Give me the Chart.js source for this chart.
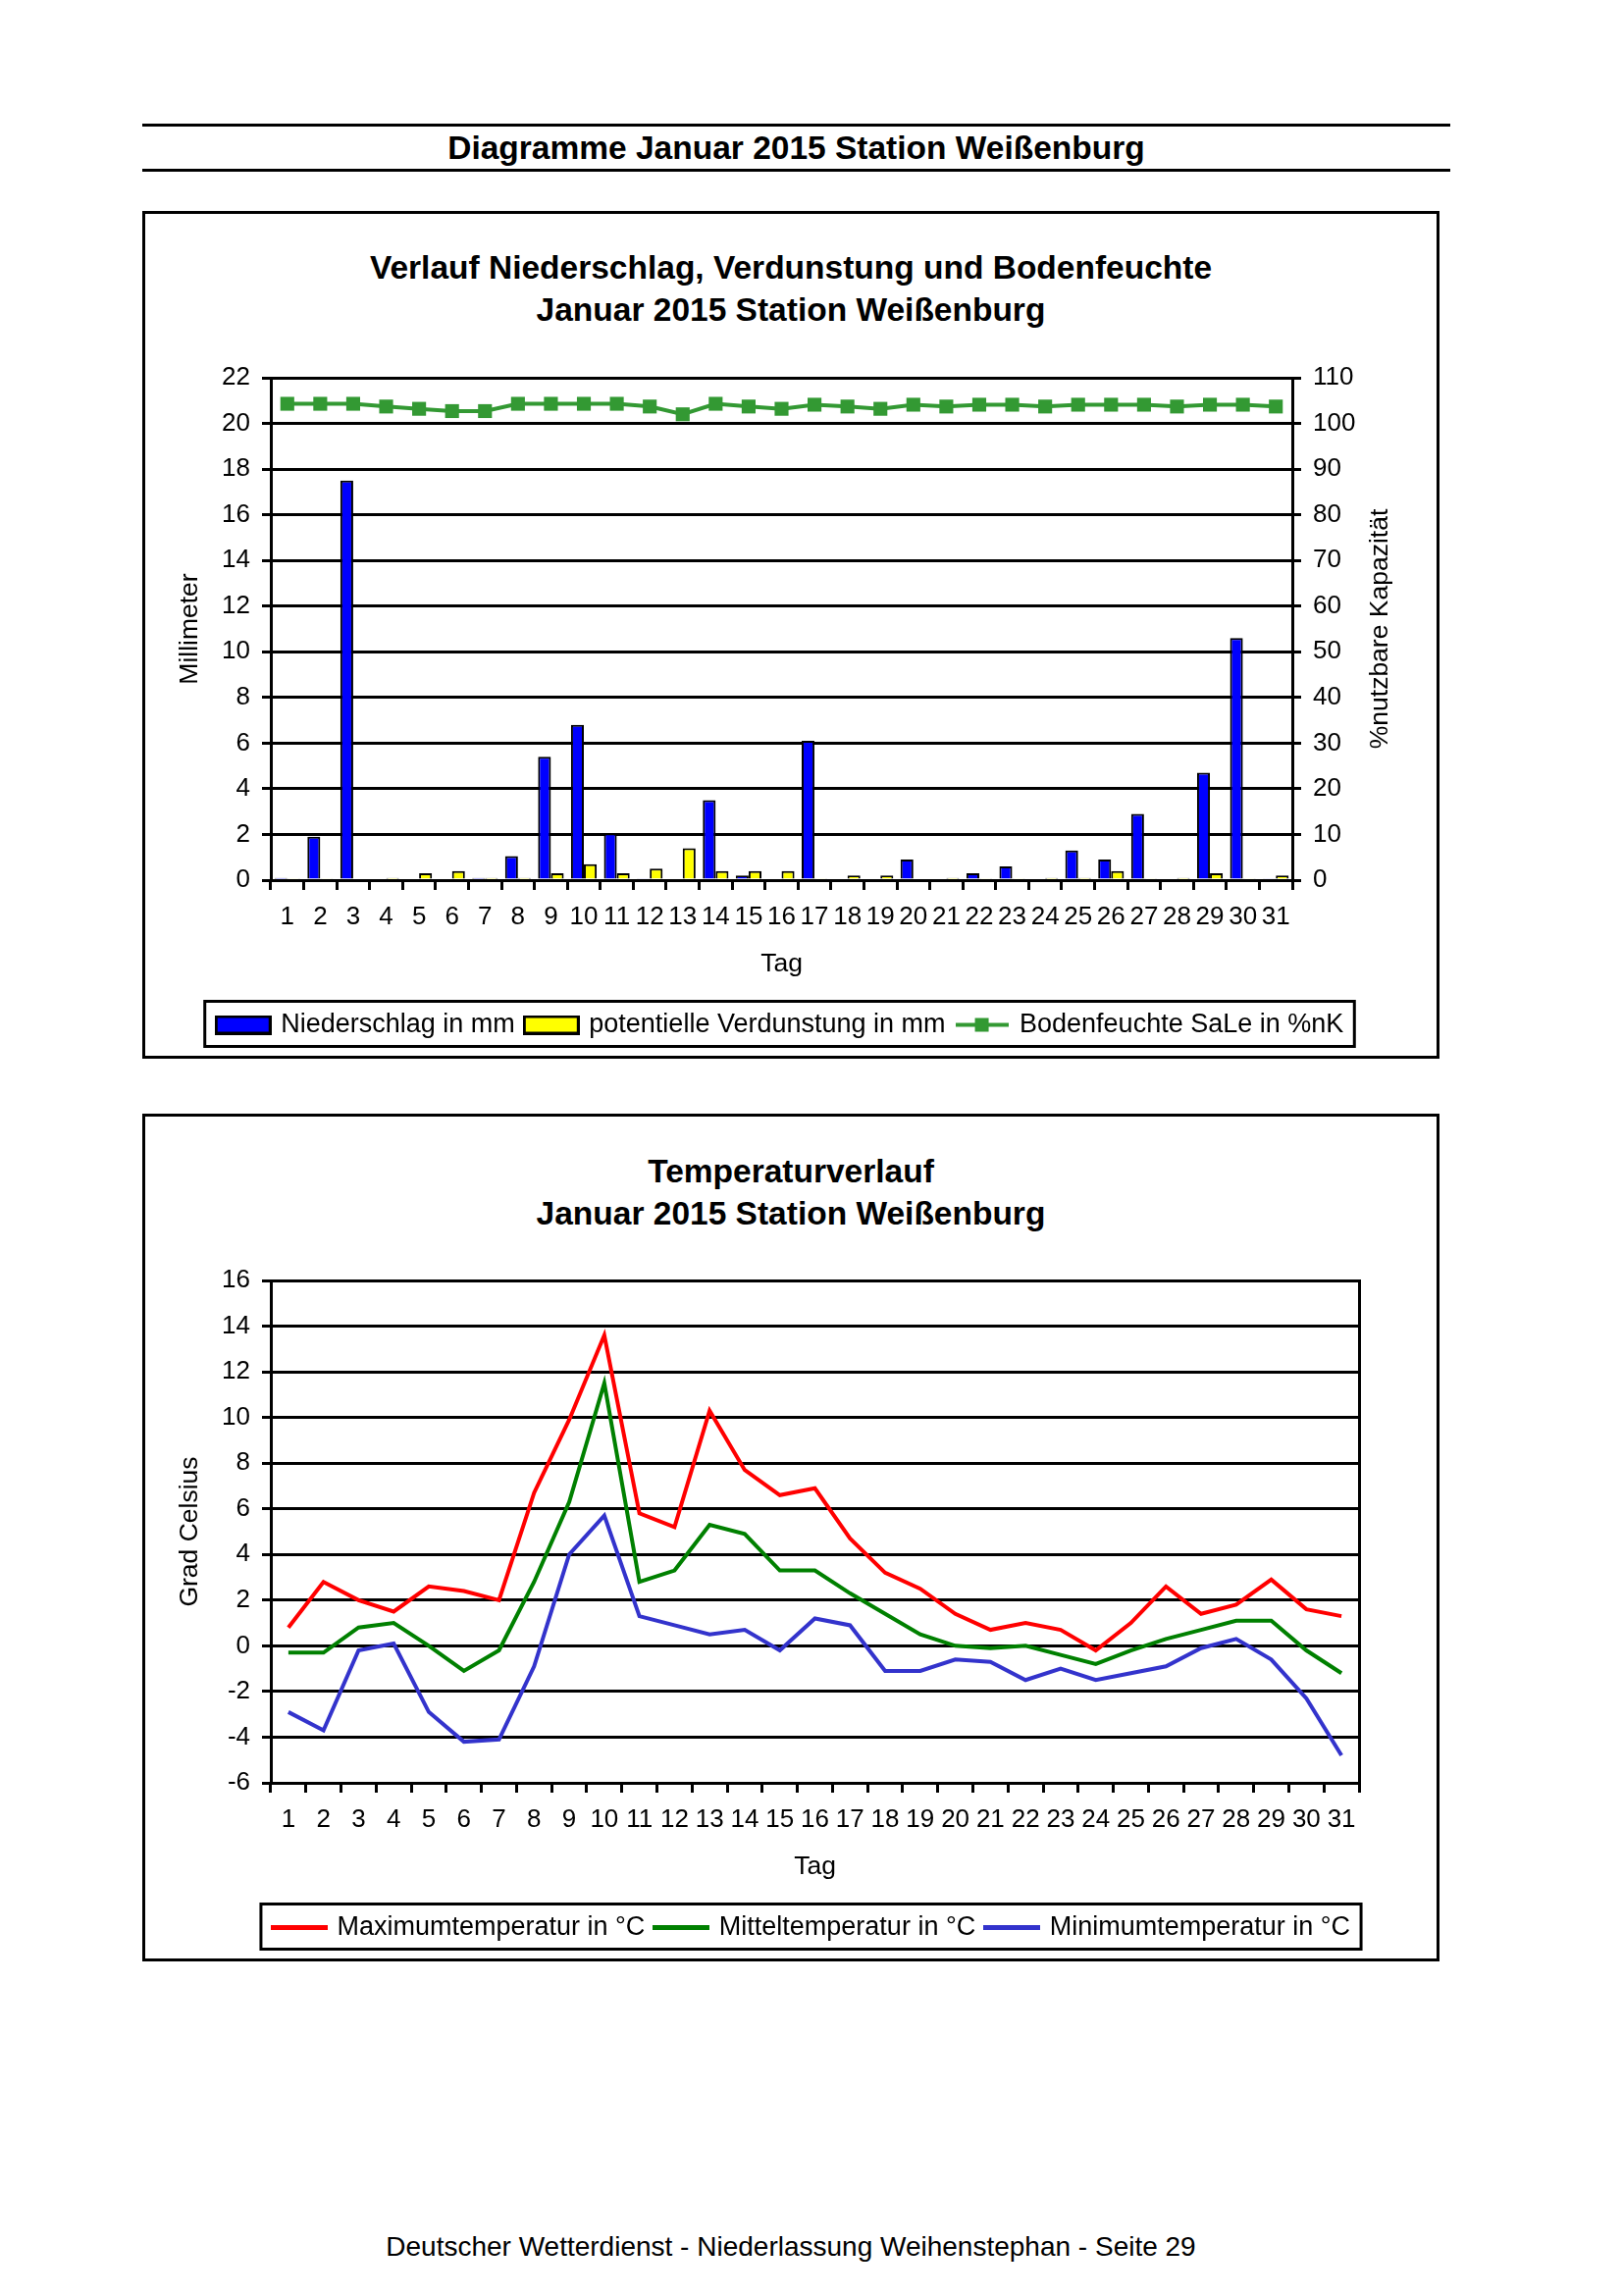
<!DOCTYPE html>
<html lang="de">
<head>
  <meta charset="UTF-8">
  <title>Diagramme Januar 2015 Station Weißenburg</title>
  <script src="https://cdn.jsdelivr.net/npm/chart.js"></script>
  <style>
    body {
      margin: 0;
      background: #fff;
      font-family: "Liberation Sans", Arial, sans-serif;
      color: #000;
    }

    #page {
      position: relative;
      width: 1653px;
      height: 2340px;
      overflow: hidden;
    }

    .hline {
      position: absolute;
      left: 145px;
      width: 1333px;
      border-top: 3px solid #000;
    }

    .kopf {
      position: absolute;
      left: 145px;
      width: 1333px;
      top: 131px;
      height: 40px;
      line-height: 40px;
      text-align: center;
      font-weight: bold;
      font-size: 33.5px;
    }

    .rahmen {
      position: absolute;
      left: 145px;
      width: 1316px;
      height: 858px;
      border: 3px solid #000;
    }

    .titel {
      position: absolute;
      left: 145px;
      width: 1322px;
      text-align: center;
      font-weight: bold;
      font-size: 33.5px;
      line-height: 43px;
    }

    canvas {
      position: absolute;
    }

    .fuss {
      position: absolute;
      left: 145px;
      width: 1322px;
      top: 2274px;
      height: 32px;
      line-height: 32px;
      text-align: center;
      font-size: 28px;
    }
  </style>
</head>
<body>
  <div id="page">
    <div class="hline" style="top:126px"></div>
    <div class="kopf">Diagramme Januar 2015 Station Weißenburg</div>
    <div class="hline" style="top:172px"></div>

    <div class="rahmen" style="top:215px"></div>
    <div class="titel" style="top:251px">Verlauf Niederschlag, Verdunstung und Bodenfeuchte<br>Januar 2015 Station Weißenburg</div>
    <canvas id="chartWasser" width="1292" height="858" style="left:150px; top:218px"></canvas>

    <div class="rahmen" style="top:1135px"></div>
    <div class="titel" style="top:1172px">Temperaturverlauf<br>Januar 2015 Station Weißenburg</div>
    <canvas id="chartTemp" width="1356" height="858" style="left:150px; top:1138px"></canvas>

    <div class="fuss">Deutscher Wetterdienst - Niederlassung Weihenstephan - Seite 29</div>
  </div>

  <script>
    const tage = ['1', '2', '3', '4', '5', '6', '7', '8', '9', '10', '11', '12', '13', '14', '15', '16',
      '17', '18', '19', '20', '21', '22', '23', '24', '25', '26', '27', '28', '29', '30', '31'];

    // Millimeter
    const niederschlag = [0.1, 1.9, 17.5, 0, 0, 0, 0.1, 1.05, 5.4, 6.8, 2.05, 0.05, 0, 3.5, 0.2, 0,
      6.1, 0, 0, 0.9, 0, 0.3, 0.6, 0, 1.3, 0.9, 2.9, 0, 4.7, 10.6, 0.05];
    const verdunstung = [0.05, 0.05, 0, 0.1, 0.3, 0.4, 0.1, 0.1, 0.3, 0.7, 0.3, 0.5, 1.4, 0.4, 0.4, 0.4,
      0.05, 0.2, 0.2, 0, 0.1, 0.05, 0.05, 0.1, 0.1, 0.4, 0.05, 0.1, 0.3, 0.05, 0.2];
    // % nutzbare Kapazität
    const bodenfeuchte = [104.3, 104.3, 104.3, 103.7, 103.2, 102.7, 102.7, 104.3, 104.3, 104.3, 104.3,
      103.7, 102.0, 104.3, 103.7, 103.2, 104.1, 103.7, 103.2, 104.1, 103.7, 104.1, 104.1, 103.7,
      104.1, 104.1, 104.1, 103.7, 104.1, 104.1, 103.7];

    // Grad Celsius
    const tMax = [0.8, 2.8, 2.0, 1.5, 2.6, 2.4, 2.0, 6.7, 9.9, 13.6, 5.8, 5.2, 10.3, 7.7, 6.6, 6.9,
      4.7, 3.2, 2.5, 1.4, 0.7, 1.0, 0.7, -0.2, 1.0, 2.6, 1.4, 1.8, 2.9, 1.6, 1.3];
    const tMittel = [-0.3, -0.3, 0.8, 1.0, 0.0, -1.1, -0.2, 2.8, 6.3, 11.5, 2.8, 3.3, 5.3, 4.9, 3.3, 3.3,
      2.3, 1.4, 0.5, 0.0, -0.1, 0.0, -0.4, -0.8, -0.2, 0.3, 0.7, 1.1, 1.1, -0.2, -1.2];
    const tMin = [-2.9, -3.7, -0.2, 0.1, -2.9, -4.2, -4.1, -0.9, 4.0, 5.7, 1.3, 0.9, 0.5, 0.7, -0.2, 1.2,
      0.9, -1.1, -1.1, -0.6, -0.7, -1.5, -1.0, -1.5, -1.2, -0.9, -0.1, 0.3, -0.6, -2.3, -4.8];

    Chart.defaults.font.family = '"Liberation Sans", Arial, sans-serif';
    Chart.defaults.color = '#000';

    // kleine Bildchen fuer die Legende
    function swatch(w, h, draw) {
      const c = document.createElement('canvas');
      c.width = w;
      c.height = h;
      draw(c.getContext('2d'), w, h);
      return c;
    }
    const kasten = (farbe) => swatch(58, 20, (ctx, w, h) => {
      ctx.fillStyle = farbe;
      ctx.fillRect(0, 0, w, h);
      ctx.strokeStyle = '#000';
      ctx.lineWidth = 3;
      ctx.strokeRect(1.5, 1.5, w - 3, h - 3);
    });
    const linie = (farbe) => swatch(58, 5, (ctx, w, h) => {
      ctx.fillStyle = farbe;
      ctx.fillRect(0, 0, w, h);
    });
    const linieMitPunkt = swatch(54, 16, (ctx, w, h) => {
      ctx.fillStyle = '#339933';
      ctx.fillRect(0, 6, w, 4);
      ctx.fillRect(w / 2 - 7, 1, 14, 14);
    });

    // Rahmen um die Legende
    const legendRahmen = {
      id: 'legendRahmen',
      afterDraw(chart) {
        const lg = chart.legend;
        const hb = lg.legendHitBoxes;
        if (!hb || !hb.length) return;
        const left = Math.min(...hb.map(b => b.left)) - 14;
        const right = Math.max(...hb.map(b => b.left + b.width)) + 11;
        const ctx = chart.ctx;
        ctx.save();
        ctx.strokeStyle = '#000';
        ctx.lineWidth = 3;
        ctx.strokeRect(left, lg.top + 1.5, right - left, lg.height - 3);
        ctx.restore();
      }
    };

    // rechte Achsenbeschriftung, von unten nach oben gelesen
    const rechterTitel = {
      id: 'rechterTitel',
      afterDraw(chart) {
        const a = chart.chartArea;
        const ctx = chart.ctx;
        ctx.save();
        ctx.translate(1257, (a.top + a.bottom) / 2);
        ctx.rotate(-Math.PI / 2);
        ctx.font = '26.5px "Liberation Sans", Arial, sans-serif';
        ctx.fillStyle = '#000';
        ctx.textAlign = 'center';
        ctx.textBaseline = 'middle';
        ctx.fillText('%nutzbare Kapazität', 0, 0);
        ctx.restore();
      }
    };

    function xAchse() {
      return {
        offset: true,
        grid: { display: true, offset: true, drawOnChartArea: false, drawTicks: true, tickLength: 10, color: '#000', lineWidth: 3 },
        border: { display: true, color: '#000', width: 3 },
        ticks: { autoSkip: false, maxRotation: 0, minRotation: 0, font: { size: 26 }, padding: 12 },
        title: { display: true, text: 'Tag', font: { size: 26.5 }, padding: { top: 0, bottom: 20 } },
        afterFit: (s) => { s.height = 122; }
      };
    }

    function legende(items) {
      return {
        position: 'bottom',
        labels: {
          font: { size: 27 },
          padding: 12,
          usePointStyle: true,
          pointStyleWidth: 50,
          generateLabels: () => items
        }
      };
    }

    new Chart(document.getElementById('chartWasser'), {
      type: 'bar',
      data: {
        labels: tage,
        datasets: [
          {
            label: 'Niederschlag in mm',
            data: niederschlag,
            yAxisID: 'y',
            backgroundColor: '#0000ff',
            borderColor: '#000',
            borderWidth: 2,
            categoryPercentage: 0.78,
            barPercentage: 1.0,
            order: 1
          },
          {
            label: 'potentielle Verdunstung in mm',
            data: verdunstung,
            yAxisID: 'y',
            backgroundColor: '#ffff00',
            borderColor: '#000',
            borderWidth: 2,
            categoryPercentage: 0.78,
            barPercentage: 1.0,
            order: 1
          },
          {
            type: 'line',
            label: 'Bodenfeuchte SaLe in %nK',
            data: bodenfeuchte,
            yAxisID: 'y1',
            borderColor: '#339933',
            backgroundColor: '#339933',
            borderWidth: 4,
            tension: 0,
            pointStyle: 'rect',
            pointRadius: 10,
            pointBackgroundColor: '#339933',
            pointBorderColor: '#339933',
            pointBorderWidth: 0,
            order: 0
          }
        ]
      },
      options: {
        responsive: false,
        animation: false,
        devicePixelRatio: 1,
        layout: { padding: { top: 167, bottom: 8, left: 0, right: 0 } },
        plugins: {
          tooltip: { enabled: false },
          legend: legende([
            { text: 'Niederschlag in mm', pointStyle: kasten('#0000ff'), datasetIndex: 0, lineWidth: 0 },
            { text: 'potentielle Verdunstung in mm', pointStyle: kasten('#ffff00'), datasetIndex: 1, lineWidth: 0 },
            { text: 'Bodenfeuchte SaLe in %nK', pointStyle: linieMitPunkt, datasetIndex: 2, lineWidth: 0 }
          ])
        },
        scales: {
          x: xAchse(),
          y: {
            position: 'left',
            min: 0,
            max: 22,
            ticks: { stepSize: 2, font: { size: 26 }, padding: 12 },
            grid: { color: '#000', lineWidth: 3, tickLength: 9 },
            border: { color: '#000', width: 3 },
            title: { display: true, text: 'Millimeter', font: { size: 26.5 }, padding: { top: 28, bottom: 0 } },
            afterFit: (s) => { s.width = 126; }
          },
          y1: {
            position: 'right',
            min: 0,
            max: 110,
            ticks: { stepSize: 10, font: { size: 26 }, padding: 12 },
            grid: { drawOnChartArea: false, color: '#000', lineWidth: 3, tickLength: 9 },
            border: { color: '#000', width: 3 },
            afterFit: (s) => { s.width = 125; }
          }
        }
      },
      plugins: [legendRahmen, rechterTitel]
    });

    new Chart(document.getElementById('chartTemp'), {
      type: 'line',
      data: {
        labels: tage,
        datasets: [
          { label: 'Maximumtemperatur in °C', data: tMax, borderColor: '#ff0000', backgroundColor: '#ff0000', borderWidth: 4, pointRadius: 0, tension: 0 },
          { label: 'Mitteltemperatur in °C', data: tMittel, borderColor: '#008000', backgroundColor: '#008000', borderWidth: 4, pointRadius: 0, tension: 0 },
          { label: 'Minimumtemperatur in °C', data: tMin, borderColor: '#3333cc', backgroundColor: '#3333cc', borderWidth: 4, pointRadius: 0, tension: 0 }
        ]
      },
      options: {
        responsive: false,
        animation: false,
        devicePixelRatio: 1,
        layout: { padding: { top: 167, bottom: 8, left: 0, right: 0 } },
        plugins: {
          tooltip: { enabled: false },
          legend: legende([
            { text: 'Maximumtemperatur in °C', pointStyle: linie('#ff0000'), datasetIndex: 0, lineWidth: 0 },
            { text: 'Mitteltemperatur in °C', pointStyle: linie('#008000'), datasetIndex: 1, lineWidth: 0 },
            { text: 'Minimumtemperatur in °C', pointStyle: linie('#3333cc'), datasetIndex: 2, lineWidth: 0 }
          ])
        },
        scales: {
          x: xAchse(),
          y: {
            position: 'left',
            min: -6,
            max: 16,
            ticks: { stepSize: 2, font: { size: 26 }, padding: 12 },
            grid: { color: '#000', lineWidth: 3, tickLength: 9 },
            border: { color: '#000', width: 3 },
            title: { display: true, text: 'Grad Celsius', font: { size: 26.5 }, padding: { top: 28, bottom: 0 } },
            afterFit: (s) => { s.width = 126; }
          },
          yr: {
            position: 'right',
            display: true,
            min: 0,
            max: 1,
            ticks: { display: false },
            grid: { display: false },
            border: { display: true, color: '#000', width: 3 },
            afterFit: (s) => { s.width = 121; }
          }
        }
      },
      plugins: [legendRahmen]
    });
  </script>
</body>
</html>
